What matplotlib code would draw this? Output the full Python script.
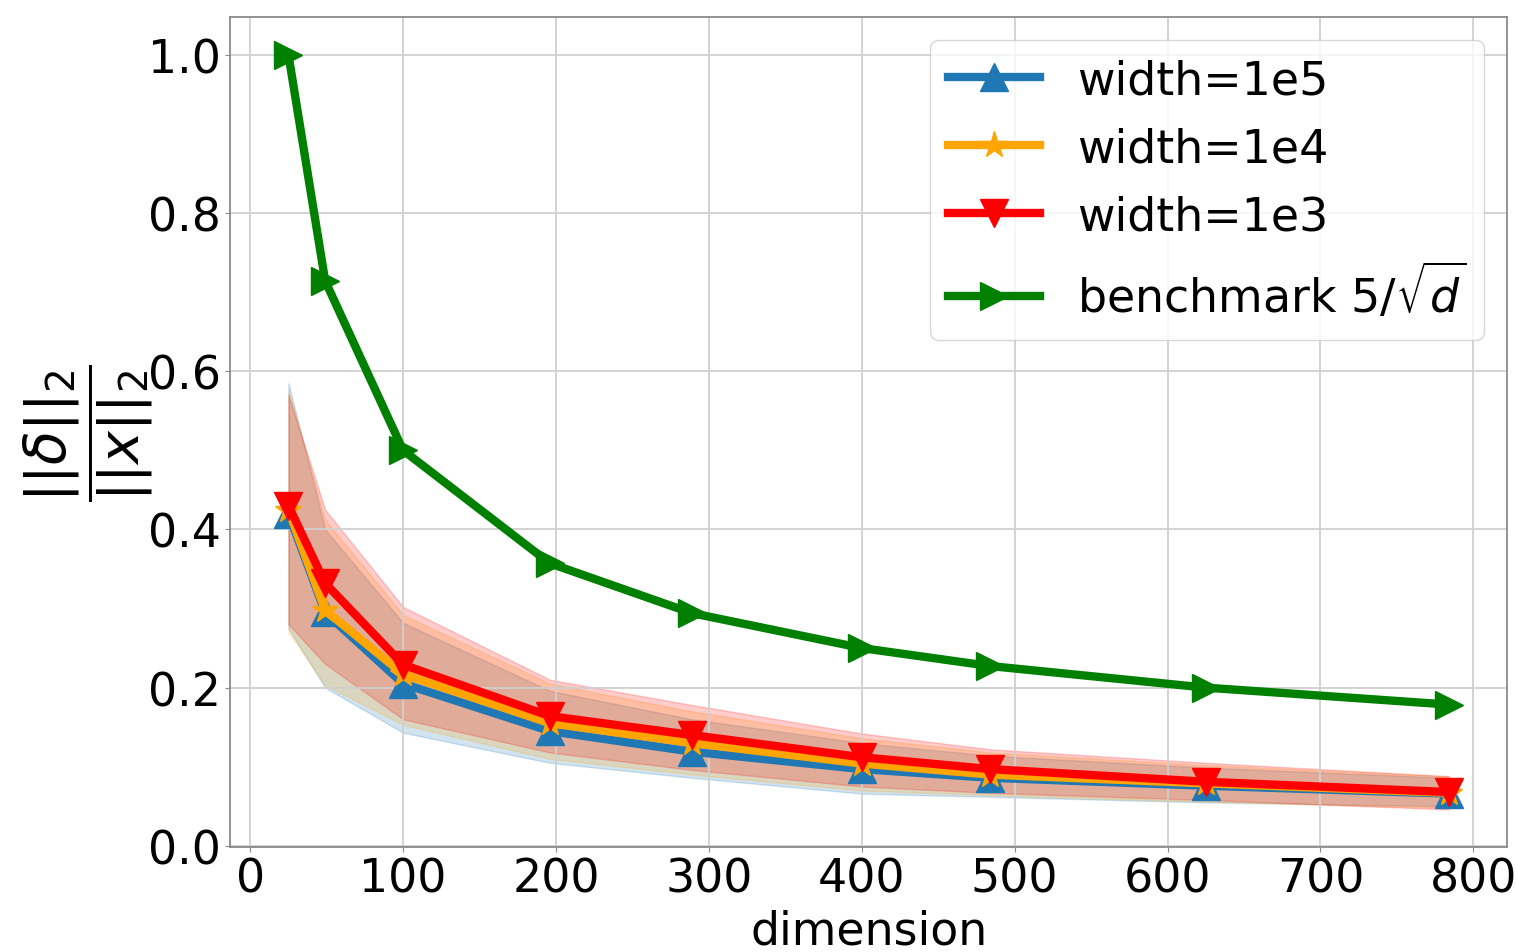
import numpy as np
import matplotlib
matplotlib.use("Agg")
import matplotlib.pyplot as plt

dims = [25, 49, 100, 196, 289, 400, 484, 625, 784]

# mean ratio and band (lower/upper) per width
mean_1e5 = [0.420, 0.295, 0.205, 0.145, 0.119, 0.097, 0.086, 0.076, 0.066]
low_1e5 = [0.275, 0.200, 0.143, 0.105, 0.086, 0.066, 0.062, 0.055, 0.050]
up_1e5 = [0.585, 0.400, 0.282, 0.196, 0.160, 0.130, 0.114, 0.099, 0.086]

mean_1e4 = [0.425, 0.298, 0.217, 0.155, 0.130, 0.104, 0.090, 0.079, 0.067]
low_1e4 = [0.270, 0.203, 0.153, 0.110, 0.090, 0.070, 0.064, 0.056, 0.048]
up_1e4 = [0.575, 0.412, 0.292, 0.205, 0.170, 0.136, 0.118, 0.102, 0.088]

mean_1e3 = [0.430, 0.332, 0.229, 0.164, 0.140, 0.112, 0.097, 0.081, 0.068]
low_1e3 = [0.280, 0.230, 0.160, 0.118, 0.096, 0.075, 0.067, 0.058, 0.046]
up_1e3 = [0.570, 0.425, 0.302, 0.210, 0.178, 0.142, 0.122, 0.105, 0.088]

benchmark = [5 / np.sqrt(d) for d in dims]

plt.rcParams['font.size'] = 33

fig, ax = plt.subplots(figsize=(15.16, 9.53), dpi=100)
fig.subplots_adjust(left=0.152, right=0.994, top=0.981, bottom=0.11)

series = [
    (mean_1e5, low_1e5, up_1e5, '#1f77b4', '^', 'width=1e5'),
    (mean_1e4, low_1e4, up_1e4, 'orange', '*', 'width=1e4'),
    (mean_1e3, low_1e3, up_1e3, 'red', 'v', 'width=1e3'),
]
for m, lo, hi, c, mk, lab in series:
    ax.plot(dims, m, color=c, marker=mk, markersize=20, linewidth=6, label=lab)
    ax.fill_between(dims, lo, hi, color=c, alpha=0.2)

ax.plot(dims, benchmark, color='green', marker='>', markersize=20, linewidth=6,
        label=r'benchmark $5/\sqrt{d}$')

ax.grid(True, color='#d0d0d0', linewidth=1.3)
for sp in ax.spines.values():
    sp.set_color('#8a8a8a')
    sp.set_linewidth(1.3)
ax.tick_params(color='#8a8a8a')
ax.set_xlabel('dimension', labelpad=5)
ax.set_ylabel(r'$\dfrac{||\delta||_2}{||x||_2}$', fontsize=40)
ax.yaxis.set_label_coords(-0.059, 0.5)
ax.set_xticks([0, 100, 200, 300, 400, 500, 600, 700, 800])
ax.legend(loc='upper right', handlelength=2.0)

plt.savefig('out.png')
